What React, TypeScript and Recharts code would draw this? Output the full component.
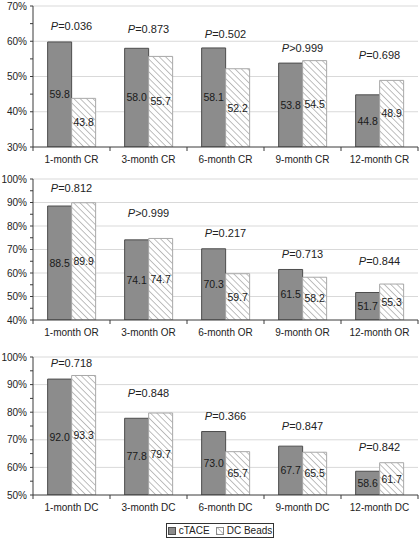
import React from "react"
import { ComposedChart, Bar, Line, XAxis, YAxis, CartesianGrid, LabelList } from "recharts"

const months = ["1-month", "3-month", "6-month", "9-month", "12-month"]

const crCtace = [59.8, 58.0, 58.1, 53.8, 44.8]
const crBeads = [43.8, 55.7, 52.2, 54.5, 48.9]
const crP = ["=0.036", "=0.873", "=0.502", ">0.999", "=0.698"]
const crPLevel = [64.3, 63.5, 62.0, 58.2, 56.1]

const orCtace = [88.5, 74.1, 70.3, 61.5, 51.7]
const orBeads = [89.9, 74.7, 59.7, 58.2, 55.3]
const orP = ["=0.812", ">0.999", "=0.217", "=0.713", "=0.844"]
const orPLevel = [96.1, 85.7, 76.9, 68.0, 65.1]

const dcCtace = [92.0, 77.8, 73.0, 67.7, 58.6]
const dcBeads = [93.3, 79.7, 65.7, 65.5, 61.7]
const dcP = ["=0.718", "=0.848", "=0.366", "=0.847", "=0.842"]
const dcPLevel = [98.0, 87.1, 78.7, 75.0, 67.5]

const crTicks = [30, 35, 40, 45, 50, 55, 60, 65, 70]
const orTicks = [40, 45, 50, 55, 60, 65, 70, 75, 80, 85, 90, 95, 100]
const dcTicks = [50, 55, 60, 65, 70, 75, 80, 85, 90, 95, 100]

const FONT = "'Liberation Sans', Arial, sans-serif"
const AXIS = "#3a3a3a"
const GRID = "#d9d9d9"

function build(suffix: string, a: number[], b: number[], p: string[], lv: number[]) {
  return months.map((m, i) => ({ name: `${m} ${suffix}`, ctace: a[i], beads: b[i], p: p[i], pLevel: lv[i] }))
}

const YTick = (props: any) => {
  const { x, y, payload } = props
  if (payload.value % 10 !== 0) return null
  return (
    <text x={x} y={y} textAnchor="end" dominantBaseline="central" fontSize={10} fill="#222" fontFamily={FONT}>
      {payload.value}%
    </text>
  )
}

const XTick = (props: any) => {
  const { x, y, payload } = props
  const half = typeof payload.offset === "number" && payload.offset > 0 ? payload.offset : 38.5
  return (
    <g>
      <text x={x} y={y + 12.5} textAnchor="middle" dominantBaseline="central" fontSize={10} fill="#222" fontFamily={FONT}>
        {payload.value}
      </text>
      <line x1={x + half} x2={x + half} y1={y} y2={y + 4} stroke={AXIS} />
      {payload.index === 0 && <line x1={x - half} x2={x - half} y1={y} y2={y + 4} stroke={AXIS} />}
    </g>
  )
}

const PLabel = (props: any) => {
  const { x, y, value } = props
  return (
    <text x={x} y={y} textAnchor="middle" dominantBaseline="central" fontSize={11} fill="#222" fontFamily={FONT}>
      <tspan fontStyle="italic">P</tspan>
      <tspan>{value}</tspan>
    </text>
  )
}

function Panel({ data, ticks, top, height }: { data: any[]; ticks: number[]; top: number; height: number }) {
  const lo = ticks[0]
  const hi = ticks[ticks.length - 1]
  const major = ticks.filter((t) => t % 10 === 0 && t !== lo)
  return (
    <div style={{ position: "absolute", left: 0, top }}>
      <ComposedChart width={419} height={height} data={data} margin={{ top: top === 0 ? 6 : 11, right: 1, left: 0, bottom: 0 }}
        barCategoryGap="19%" barGap={0}>
        <CartesianGrid vertical={false} horizontalValues={major} stroke={GRID} strokeDasharray="" />
        <XAxis dataKey="name" height={21} tickLine={false} tickSize={0} tickMargin={0} tick={<XTick />}
          axisLine={{ stroke: AXIS }} interval={0} />
        <YAxis width={33} domain={[lo, hi]} ticks={ticks} interval={0} tickSize={3} tickMargin={3}
          tick={<YTick />} axisLine={{ stroke: AXIS }} tickLine={{ stroke: AXIS }} allowDataOverflow />
        <Bar dataKey="ctace" fill="#8c8c8c" stroke="#4d4d4d" strokeWidth={1} isAnimationActive={false}>
          <LabelList dataKey="ctace" position="center" fontSize={10.5} fill="#1a1a1a" fontFamily={FONT}
            formatter={(v: any) => Number(v).toFixed(1)} />
        </Bar>
        <Bar dataKey="beads" fill="url(#hatch)" stroke="#a8a8a8" strokeWidth={1} isAnimationActive={false}>
          <LabelList dataKey="beads" position="center" fontSize={10.5} fill="#1a1a1a" fontFamily={FONT}
            formatter={(v: any) => Number(v).toFixed(1)} />
        </Bar>
        <Line dataKey="pLevel" stroke="none" dot={false} activeDot={false} isAnimationActive={false}>
          <LabelList dataKey="p" content={<PLabel />} />
        </Line>
      </ComposedChart>
    </div>
  )
}

export default function App() {
  return (
    <div style={{ position: "absolute", left: 0, top: 0, width: 419, height: 539, background: "#fff", fontFamily: FONT }}>
      <svg width={0} height={0} style={{ position: "absolute" }}>
        <defs>
          <pattern id="hatch" patternUnits="userSpaceOnUse" width={4.5} height={4.5} patternTransform="rotate(-45)">
            <rect width={4.5} height={4.5} fill="#fff" />
            <line x1={0} y1={0} x2={0} y2={4.5} stroke="#8a8a8a" strokeWidth={1.1} />
          </pattern>
        </defs>
      </svg>
      <Panel data={build("CR", crCtace, crBeads, crP, crPLevel)} ticks={crTicks} top={0} height={168} />
      <Panel data={build("OR", orCtace, orBeads, orP, orPLevel)} ticks={orTicks} top={168} height={173} />
      <Panel data={build("DC", dcCtace, dcBeads, dcP, dcPLevel)} ticks={dcTicks} top={346} height={170} />
      <div style={{ position: "absolute", left: 166, top: 523, width: 106, height: 13, border: "1px solid #333",
        display: "flex", alignItems: "center", justifyContent: "center", gap: 3, fontSize: 10, color: "#222",
        whiteSpace: "nowrap", lineHeight: "13px" }}>
        <span style={{ display: "inline-block", width: 6, height: 6, background: "#8c8c8c", border: "1px solid #4d4d4d" }} />
        <span>cTACE</span>
        <svg width={8} height={8} style={{ marginLeft: 3, flexShrink: 0 }}>
          <rect x={0.5} y={0.5} width={7} height={7} fill="url(#hatch)" stroke="#8a8a8a" />
        </svg>
        <span>DC Beads</span>
      </div>
    </div>
  )
}
